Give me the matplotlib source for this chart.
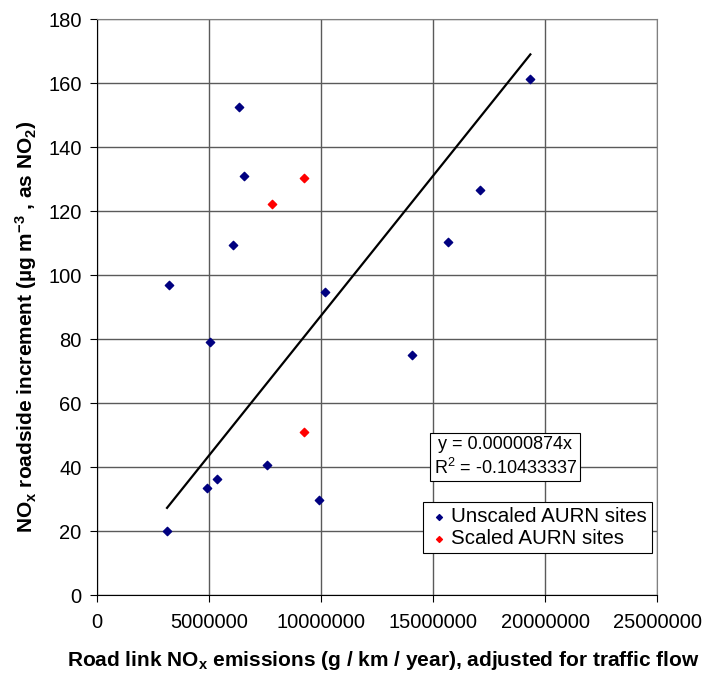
import matplotlib
matplotlib.use("Agg")
import matplotlib.pyplot as plt
import numpy as np

plt.rcParams.update({
    "font.family": ["Liberation Sans", "DejaVu Sans"],
    "mathtext.fontset": "custom",
    "mathtext.rm": "Liberation Sans",
    "mathtext.it": "Liberation Sans",
    "mathtext.bf": "Liberation Sans:bold",
})

# Unscaled AURN sites (emissions g/km/year, roadside NOx increment)
unscaled_x = [6.35e6, 6.56e6, 6.09e6, 3.20e6, 10.18e6, 5.03e6, 7.59e6, 5.34e6,
              4.92e6, 9.91e6, 3.125e6, 19.34e6, 17.11e6, 15.66e6, 14.08e6]
unscaled_y = [152.7, 131.0, 109.4, 97.1, 94.9, 79.1, 40.7, 36.4,
              33.4, 29.8, 20.1, 161.4, 126.7, 110.5, 75.1]

# Scaled AURN sites
scaled_x = [9.23e6, 7.80e6, 9.23e6]
scaled_y = [130.5, 122.2, 51.1]

slope = 0.00000874
trend_label = "y = 0.00000874x\nR$^2$ = -0.10433337"

fig = plt.figure(figsize=(7.03, 6.73), dpi=100)
ax = fig.add_axes([0.138, 0.1155, 0.7968, 0.8558])

# linear trend through origin, drawn over the data range
all_x = np.array(unscaled_x + scaled_x)
tx = np.array([all_x.min(), all_x.max()])
ax.plot(tx, slope * tx, color="black", lw=1.6, zorder=3)

ax.scatter(unscaled_x, unscaled_y, marker="D", s=18, color="#000080", zorder=4,
           label="Unscaled AURN sites")
ax.scatter(scaled_x, scaled_y, marker="D", s=18, color="#ff0000", zorder=4,
           label="Scaled AURN sites")

ax.set_xlim(0, 25e6)
ax.set_ylim(0, 180)
xt = np.arange(0, 25e6 + 1, 5e6)
ax.set_xticks(xt)
ax.set_xticklabels([f"{int(v)}" for v in xt])
ax.set_yticks(np.arange(0, 181, 20))
ax.grid(True, color="#5a5a5a", lw=1.0, zorder=0)
ax.set_axisbelow(True)

for side in ("top", "right"):
    ax.spines[side].set_color("#808080")
for side in ("left", "bottom"):
    ax.spines[side].set_color("black")
ax.tick_params(direction="out", length=5, labelsize=14.5)
ax.tick_params(axis="x", pad=8)
ax.tick_params(axis="y", pad=6)

ax.set_xlabel(r"Road link NO$_\mathbf{x}$ emissions (g / km / year), adjusted for traffic flow",
              fontsize=15, fontweight="bold", va="center")
ax.set_ylabel(r"NO$_\mathbf{x}$ roadside increment (µg m$^\mathbf{-3}$ , as NO$_\mathbf{2}$)",
              fontsize=15, fontweight="bold", va="center")
ax.xaxis.set_label_coords(0.512, -0.1125)
ax.yaxis.set_label_coords(-0.127, 0.466)

ax.text(0.7286, 0.240, trend_label, transform=ax.transAxes, fontsize=13,
        va="center", ha="center", linespacing=1.25,
        bbox=dict(boxstyle="square,pad=0.2", fc="white", ec="black", lw=0.8), zorder=5)

leg = ax.legend(loc="lower right", bbox_to_anchor=(0.9905, 0.0729), fontsize=14.8,
                frameon=True, fancybox=False, edgecolor="black", framealpha=1,
                handletextpad=0.1, handlelength=1.0, borderpad=0.25, labelspacing=0.15,
                borderaxespad=0, markerscale=0.7)
leg.get_frame().set_linewidth(0.8)

fig.savefig("out.png", dpi=100)
